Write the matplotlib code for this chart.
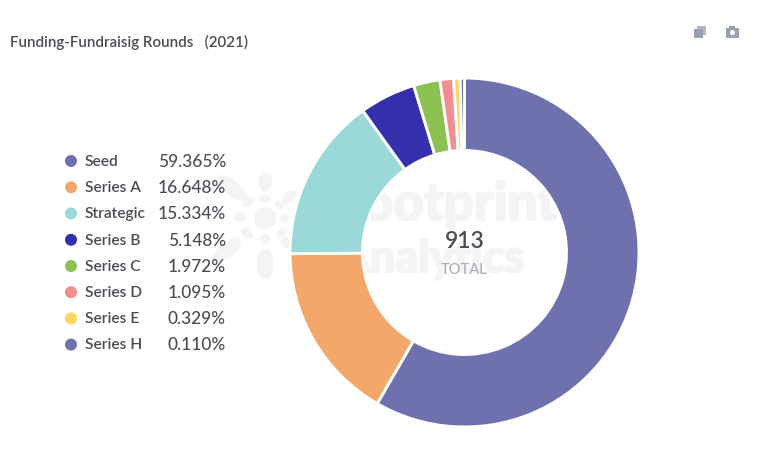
import matplotlib
matplotlib.use("Agg")
import matplotlib.pyplot as plt
import matplotlib.patheffects as pe
from matplotlib.patches import Ellipse, Rectangle, Circle

# data
rounds = ["Seed", "Series A", "Strategic", "Series B", "Series C", "Series D", "Series E", "Series H"]
percent_labels = ["59.365%", "16.648%", "15.334%", "5.148%", "1.972%", "1.095%", "0.329%", "0.110%"]
# share of the ring each slice actually takes in the picture (small ones get a minimum size)
drawn_share = [58.33, 16.55, 15.2, 5.2, 2.45, 1.25, 0.6, 0.4]
colors = ["#6f71ae", "#f4a76b", "#9bd9d9", "#3430ab", "#8bc151", "#f28e8f", "#fdd663", "#6f71ae"]
total = 913
title = "Funding-Fundraisig Rounds   (2021)"

W, H = 768, 449
TEXT = "#4c4c54"

plt.rcParams["font.family"] = ["Lato", "DejaVu Sans"]

fig = plt.figure(figsize=(W / 100, H / 100), dpi=100, facecolor="white")

# full-figure axes in pixel coordinates for text, legend and decorations
bg = fig.add_axes([0, 0, 1, 1])
bg.set_xlim(0, W)
bg.set_ylim(H, 0)
bg.axis("off")

# watermark
wm = "#f4f4f7"
heavy = [pe.withStroke(linewidth=1.5, foreground=wm)]
bg.text(333, 220, "Footprint", fontsize=38, fontweight="black", color=wm, ha="left", va="baseline", path_effects=heavy)
bg.text(338, 272, "Analytics", fontsize=32.5, fontweight="black", color=wm, ha="left", va="baseline", path_effects=heavy)
# logo blobs: x, y, length, thickness, angle
logo = [
    (265, 218, 22, 22, 0),
    (265, 199, 11, 8, 0), (285, 218, 8, 9, 0), (240, 217, 12, 10, 0), (265, 239, 11, 10, 0),
    (279, 205, 10, 7, 45), (248, 202, 12, 9, -40), (247, 233, 14, 10, 40), (281, 233, 10, 8, -45),
    (265, 182, 14, 19, 0), (265, 264, 17, 30, 0),
    (289, 197, 18, 10, -40), (232, 188, 36, 15, 40), (227, 250, 34, 15, -40), (287, 243, 14, 10, 45),
]
for lx, ly, lw_, lh, la in logo:
    bg.add_patch(Ellipse((lx, ly), lw_, lh, angle=la, color=wm, lw=0))

bg.text(10, 42, title, fontsize=10.9, fontweight="semibold", color=TEXT, ha="left", va="center")

# legend rows
row_y = [161, 187.3, 213.5, 239.8, 266, 292.2, 318.4, 344.6]
for y, name, pct, col in zip(row_y, rounds, percent_labels, colors):
    bg.add_patch(Circle((71, y), 6, color=col, lw=0))
    bg.text(85, y + 0.8, name, fontsize=11.2, fontweight="semibold", color=TEXT, ha="left", va="center")
    bg.text(226, y + 0.8, pct, fontsize=12.4, fontweight="medium", color=TEXT, ha="right", va="center")

# toolbar icons
icon = "#9aa0ae"
bg.add_patch(Rectangle((697, 26), 9, 9, color="#b4b8c3", lw=0))
bg.add_patch(Rectangle((694, 29), 9, 9, color=icon, lw=0))
bg.add_patch(Rectangle((726, 27.5), 13, 10, color=icon, lw=0))
bg.add_patch(Rectangle((729, 26), 6, 2, color=icon, lw=0))
bg.add_patch(Circle((732.5, 32.5), 2.5, color="white", lw=0))

# donut
cx, cy, r_out, r_in = 464.5, 252.5, 174.5, 102
ax = fig.add_axes([(cx - r_out) / W, 1 - (cy + r_out) / H, 2 * r_out / W, 2 * r_out / H])
ax.patch.set_alpha(0)
ax.pie(drawn_share, colors=colors, startangle=90, counterclock=False, radius=1,
       wedgeprops={"width": 1 - r_in / r_out, "edgecolor": "white", "linewidth": 2.1})
ax.set_xlim(-1, 1)
ax.set_ylim(-1, 1)

bg.text(cx, 242, str(total), fontsize=16.5, fontweight="semibold", color=TEXT, ha="center", va="center", zorder=5)
bg.text(cx, 270, "TOTAL", fontsize=10.5, fontweight="medium", color="#adadb5", ha="center", va="center", zorder=5)

fig.savefig("out.png", dpi=100)
